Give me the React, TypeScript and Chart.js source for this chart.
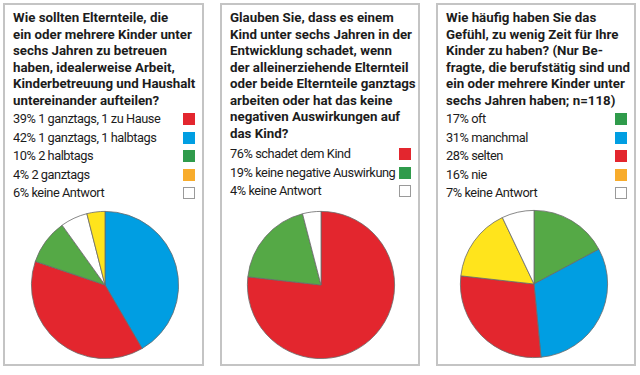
import React, { useEffect, useRef } from "react";
import { Chart, registerables } from "chart.js";

Chart.register(...registerables);

// ---------- data ----------
const titles1 = [
  "Wie sollten Elternteile, die",
  "ein oder mehrere Kinder unter",
  "sechs Jahren zu betreuen",
  "haben, idealerweise Arbeit,",
  "Kinderbetreuung und Haushalt",
  "untereinander aufteilen?",
];
const titles2 = [
  "Glauben Sie, dass es einem",
  "Kind unter sechs Jahren in der",
  "Entwicklung schadet, wenn",
  "der alleinerziehende Elternteil",
  "oder beide Elternteile ganztags",
  "arbeiten oder hat das keine",
  "negativen Auswirkungen auf",
  "das Kind?",
];
const titles3 = [
  "Wie häufig haben Sie das",
  "Gefühl, zu wenig Zeit für Ihre",
  "Kinder zu haben? (Nur Be-",
  "fragte, die berufstätig sind und",
  "ein oder mehrere Kinder unter",
  "sechs Jahren haben; n=118)",
];

const labels1 = ["1 ganztags, 1 zu Hause", "1 ganztags, 1 halbtags", "2 halbtags", "2 ganztags", "keine Antwort"];
const values1 = [39, 42, 10, 4, 6];
const legendColors1 = ["#e3262e", "#009ee2", "#2f9b4b", "#f8ac2c", "#ffffff"];
const pieColors1 = ["#e3262e", "#009ee2", "#55a946", "#ffe41c", "#ffffff"];
const pieOrder1 = [1, 0, 2, 4, 3];

const labels2 = ["schadet dem Kind", "keine negative Auswirkung", "keine Antwort"];
const values2 = [76, 19, 4];
const legendColors2 = ["#e3262e", "#2f9b4b", "#ffffff"];
const pieColors2 = ["#e3262e", "#55a946", "#ffffff"];
const pieOrder2 = [0, 1, 2];

const labels3 = ["oft", "manchmal", "selten", "nie", "keine Antwort"];
const values3 = [17, 31, 28, 16, 7];
const legendColors3 = ["#2f9b4b", "#009ee2", "#e3262e", "#f8ac2c", "#ffffff"];
const pieColors3 = ["#55a946", "#009ee2", "#e3262e", "#ffe41c", "#ffffff"];
const pieOrder3 = [0, 1, 2, 3, 4];

const FONT = "Roboto, 'Noto Sans', sans-serif";

type PanelProps = {
  left: number;
  width: number;
  titles: string[];
  labels: string[];
  values: number[];
  legendColors: string[];
  pieColors: string[];
  pieOrder: number[];
  pieCx: number;
  pieCy: number;
  legendGap: number;
};

function Pie({ labels, values, colors, order }: { labels: string[]; values: number[]; colors: string[]; order: number[] }) {
  const ref = useRef<HTMLCanvasElement | null>(null);
  useEffect(() => {
    if (!ref.current) return;
    const chart = new Chart(ref.current, {
      type: "pie",
      data: {
        labels: order.map((i) => labels[i]),
        datasets: [
          {
            data: order.map((i) => values[i]),
            backgroundColor: order.map((i) => colors[i]),
            borderColor: "#6a6a6a",
            borderWidth: 0.8,
          },
        ],
      },
      options: {
        responsive: false,
        animation: false,
        layout: { padding: 1 },
        plugins: { legend: { display: false }, tooltip: { enabled: false }, title: { display: false } },
      },
    });
    return () => chart.destroy();
  }, []);
  return <canvas ref={ref} width={150} height={150} style={{ display: "block", width: 150, height: 150 }} />;
}

function Panel(p: PanelProps) {
  const titleTop = 10;
  const titleLH = 16.5;
  const legendLH = 18.6;
  const legendStart = titleTop + p.titles.length * titleLH + p.legendGap;
  return (
    <>
      <div
        style={{
          position: "absolute",
          left: p.left,
          top: 3,
          width: p.width,
          height: 363,
          boxSizing: "border-box",
          border: "2px solid #c4c4c4",
          background: "#fff",
        }}
      />
      {p.titles.map((t, i) => (
        <div
          key={"t" + i}
          style={{
            position: "absolute",
            left: p.left + 10,
            top: titleTop + i * titleLH,
            height: titleLH,
            lineHeight: titleLH + "px",
            fontFamily: FONT,
            fontWeight: 700,
            fontSize: 13.3,
            color: "#1c1c1c",
            whiteSpace: "nowrap",
          }}
        >
          {t}
        </div>
      ))}
      {p.labels.map((l, i) => (
        <React.Fragment key={"l" + i}>
          <div
            style={{
              position: "absolute",
              left: p.left + 10,
              top: legendStart + i * legendLH,
              height: legendLH,
              lineHeight: legendLH + "px",
              fontFamily: FONT,
              fontSize: 12.8,
              letterSpacing: "-0.45px",
              color: "#1c1c1c",
              whiteSpace: "nowrap",
            }}
          >
            {p.values[i] + "% " + l}
          </div>
          <div
            style={{
              position: "absolute",
              left: p.left + p.width - 21,
              top: legendStart + i * legendLH + 3,
              width: 12,
              height: 12,
              boxSizing: "border-box",
              background: p.legendColors[i],
              border: p.legendColors[i] === "#ffffff" ? "1px solid #9a9a9a" : "none",
            }}
          />
        </React.Fragment>
      ))}
      <div style={{ position: "absolute", left: p.pieCx - 75, top: p.pieCy - 75 }}>
        <Pie labels={p.labels} values={p.values} colors={p.pieColors} order={p.pieOrder} />
      </div>
    </>
  );
}

export default function App() {
  return (
    <div style={{ position: "absolute", left: 0, top: 0, width: 640, height: 375, background: "#fff", overflow: "hidden" }}>
      <Panel
        left={3}
        width={201}
        titles={titles1}
        labels={labels1}
        values={values1}
        legendColors={legendColors1}
        pieColors={pieColors1}
        pieOrder={pieOrder1}
        pieCx={105}
        pieCy={285}
        legendGap={1}
      />
      <Panel
        left={220}
        width={200}
        titles={titles2}
        labels={labels2}
        values={values2}
        legendColors={legendColors2}
        pieColors={pieColors2}
        pieOrder={pieOrder2}
        pieCx={320.5}
        pieCy={284.5}
        legendGap={3}
      />
      <Panel
        left={436}
        width={200}
        titles={titles3}
        labels={labels3}
        values={values3}
        legendColors={legendColors3}
        pieColors={pieColors3}
        pieOrder={pieOrder3}
        pieCx={534}
        pieCy={284}
        legendGap={1}
      />
    </div>
  );
}
